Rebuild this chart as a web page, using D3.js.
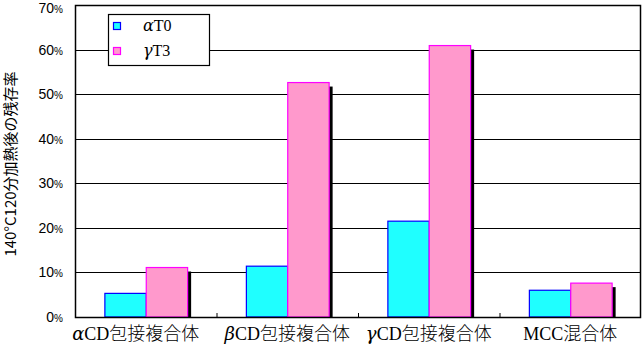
<!DOCTYPE html>
<html>
<head>
<meta charset="utf-8">
<script src="https://cdn.jsdelivr.net/npm/d3@7"></script>
<style>
  body { margin: 0; background: #fff; }
  svg { display: block; }
</style>
</head>
<body>
<svg id="chart" width="642" height="344"></svg>
<script>
const categories = ["αCD包接複合体", "βCD包接複合体", "γCD包接複合体", "MCC混合体"];
const greek = ["α", "β", "γ", ""];
const seriesNames = ["αT0", "γT3"];
const alphaT0 = [0.053, 0.114, 0.215, 0.060];
const gammaT3 = [0.111, 0.526, 0.609, 0.076];
const yTicks = [0, 0.1, 0.2, 0.3, 0.4, 0.5, 0.6, 0.7];

const fills = ["#1fffff", "#ff99cc"];
const strokes = ["#0000ff", "#ff00ff"];

const svg = d3.select("#chart");
const margin = {top: 5, right: 1, bottom: 27, left: 75};
const W = +svg.attr("width"), H = +svg.attr("height");

const x = d3.scaleBand().domain(categories).range([margin.left, W - margin.right]);
const x1 = d3.scaleBand().domain(seriesNames).range([0, x.bandwidth()]).paddingInner(0).paddingOuter(0.71);
const y = d3.scaleLinear().domain([0, 0.7]).range([H - margin.bottom, margin.top]);

// grid
svg.append("g").selectAll("line").data(yTicks).join("line")
  .attr("x1", margin.left).attr("x2", W - margin.right)
  .attr("y1", d => Math.round(y(d)) + 0.5).attr("y2", d => Math.round(y(d)) + 0.5)
  .attr("stroke", "#000").attr("stroke-width", 1.2);

// bars
const rows = categories.map((c, i) => ({c, vals: [alphaT0[i], gammaT3[i]]}));
const g = svg.append("g").selectAll("g").data(rows).join("g")
  .attr("transform", d => `translate(${x(d.c)},0)`);

// shadow for pink bar
g.append("rect")
  .attr("x", x1(seriesNames[1]) + 4)
  .attr("y", d => y(d.vals[1]) + 4)
  .attr("width", x1.bandwidth())
  .attr("height", d => y(0) - y(d.vals[1]) - 4)
  .attr("fill", "#000");

g.selectAll("rect.bar").data(d => d.vals.map((v, k) => ({v, k}))).join("rect")
  .attr("class", "bar")
  .attr("x", d => x1(seriesNames[d.k]) + 0.5)
  .attr("y", d => y(d.v))
  .attr("width", x1.bandwidth())
  .attr("height", d => y(0) - y(d.v))
  .attr("fill", d => fills[d.k])
  .attr("stroke", d => strokes[d.k])
  .attr("stroke-width", 1.2);

// frame
svg.append("rect")
  .attr("x", margin.left + 0.5).attr("y", margin.top + 0.5)
  .attr("width", W - margin.left - margin.right - 1)
  .attr("height", H - margin.top - margin.bottom)
  .attr("fill", "none").attr("stroke", "#000").attr("stroke-width", 1.5);

// category ticks (inward)
svg.append("g").selectAll("line").data(categories.slice(1)).join("line")
  .attr("x1", d => x(d) + 0.5).attr("x2", d => x(d) + 0.5)
  .attr("y1", y(0)).attr("y2", y(0) - 4)
  .attr("stroke", "#000");

// y tick labels
const yl = svg.append("g").attr("font-family", "'Liberation Sans', Arial, sans-serif")
  .attr("font-size", 14).attr("fill", "#000");
yl.selectAll("text").data(yTicks).join("text")
  .attr("x", 63).attr("y", d => Math.max(y(d) + 5, 13))
  .attr("text-anchor", "end")
  .each(function(d) {
    const t = d3.select(this);
    t.append("tspan").text(Math.round(d * 100));
    t.append("tspan").attr("font-size", 10).text("%");
  });

// y title
svg.append("text")
  .attr("transform", `translate(16,${(y(0) + y(0.7)) / 2 + 3}) rotate(-90)`)
  .attr("text-anchor", "middle")
  .attr("font-family", "'Noto Sans CJK JP', sans-serif")
  .attr("font-size", 15)
  .text("140°C120分加熱後の残存率");

// x labels
const xl = svg.append("g").selectAll("text").data(categories).join("text")
  .attr("x", (d, i) => x(d) + x.bandwidth() / 2 + (i === 0 ? -10 : 0))
  .attr("y", 340)
  .attr("text-anchor", "middle")
  .attr("font-size", 18);
xl.each(function(d, i) {
  const t = d3.select(this);
  const gk = greek[i];
  const rest = gk ? d.slice(1) : d;
  if (gk) t.append("tspan").attr("font-family", "'DejaVu Serif', serif").attr("font-style", "italic").attr("font-weight", 300).text(gk);
  const m = rest.match(/^([A-Za-z]+)(.*)$/);
  t.append("tspan").attr("font-family", "'Liberation Serif', serif").text(m[1]);
  t.append("tspan").attr("font-family", "'Noto Sans CJK JP', sans-serif").attr("font-weight", 300).text(m[2]);
});

// legend
const lg = svg.append("g");
lg.append("rect").attr("x", 108.5).attr("y", 14.5).attr("width", 101).attr("height", 51)
  .attr("fill", "#fff").attr("stroke", "#000").attr("stroke-width", 1.2);
seriesNames.forEach((s, k) => {
  const yy = 22 + k * 25;
  lg.append("rect").attr("x", 113.5).attr("y", yy + 0.5).attr("width", 7).attr("height", 7)
    .attr("fill", fills[k]).attr("stroke", strokes[k]).attr("stroke-width", 1.2);
  const t = lg.append("text").attr("x", 143).attr("y", yy + 9).attr("font-size", 16);
  t.append("tspan").attr("font-family", "'DejaVu Serif', serif").attr("font-style", "italic").text(s[0]);
  t.append("tspan").attr("font-family", "'Liberation Serif', serif").text(s.slice(1));
});
</script>
</body>
</html>
